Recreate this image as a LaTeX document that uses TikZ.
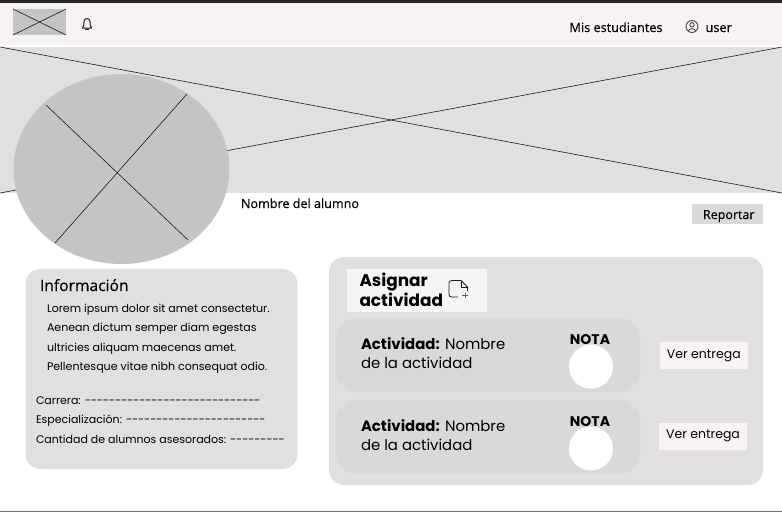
\documentclass[tikz,border=0pt]{standalone}
\usepackage{fontspec}
\setmainfont[Ligatures=TeXOff]{Poppins}
\newfontfamily\opensans[FakeBold=0.25]{Open Sans}
\usetikzlibrary{positioning,shapes.geometric}
\definecolor{navbg}{HTML}{F6F3F2}
\definecolor{herobg}{HTML}{E0E0E0}
\definecolor{imgbg}{HTML}{C4C4C4}
\definecolor{panelbg}{HTML}{E1DFDF}
\definecolor{rowbg}{HTML}{D9D9D9}
\definecolor{btnbg}{HTML}{FBF3F3}
\definecolor{asignbg}{HTML}{F6F5F5}
\definecolor{ink}{HTML}{1A1A1A}
\begin{document}
\begin{tikzpicture}[x=1pt,y=-1pt,
    box/.style={inner sep=0pt,outer sep=0pt,anchor=north west},
    cross/.style={draw=ink,line width=.6pt},
    txt/.style={inner sep=0pt,outer sep=0pt,anchor=base west,text=black},
    btn/.style={fill=btnbg,minimum width=88pt,minimum height=26.5pt,inner sep=0pt,font=\fontsize{12.5}{15}\selectfont},
    row/.style={box,fill=rowbg,rounded corners=22pt,minimum width=304pt,minimum height=74pt},
    dot/.style={circle,fill=white,minimum size=44pt,inner sep=0pt},
    nota/.style={inner sep=0pt,font=\fontsize{14}{16}\selectfont\bfseries}]
  \useasboundingbox (0,0) rectangle (782,512);
  \node[box,fill=white,minimum width=782pt,minimum height=512pt] (page) at (0,0) {};
  % top bar
  \node[box,fill=black!85,minimum width=782pt,minimum height=3pt] (topline) at (0,0) {};
  \node[box,fill=navbg,minimum width=782pt,minimum height=42pt] (nav) at (0,3) {};
  \node[box,fill=black!55,minimum width=782pt,minimum height=1.2pt] (bottomline) at (0,510.8) {};
  \node[box,fill=imgbg,minimum width=53pt,minimum height=26pt] (logo) at (13,9) {};
  \draw[cross] (logo.north west) -- (logo.south east);
  \draw[cross] (logo.south west) -- (logo.north east);
  % bell
  \node[inner sep=0pt,minimum size=1pt] (bell) at (87,24) {};
  \draw[ink,line width=1pt,line join=round] (82.5,28) .. controls (84.5,26) and (83.5,24) .. (84,21.5) .. controls (84.5,17.5) and (89.5,17.5) .. (90,21.5) .. controls (90.5,24) and (89.5,26) .. (91.5,28) -- cycle;
  \fill[ink] (85.2,28.5) rectangle (88.8,30);
  \node[txt,font=\opensans\fontsize{12.7}{15}\selectfont] (misest) at (569.5,32) {Mis estudiantes};
  \node[circle,draw=ink!80,line width=.9pt,minimum size=12pt,inner sep=0pt] (usericon) at (692,26.5) {};
  \draw[ink!80,line width=.9pt] (692,24.8) circle (2.2pt);
  \draw[ink!80,line width=.9pt] (688.3,30.8) .. controls (689.5,28) and (694.5,28) .. (695.7,30.8);
  \node[txt,font=\opensans\fontsize{12.8}{15}\selectfont] (user) at (705.5,32) {user};
  % hero
  \node[box,fill=herobg,minimum width=782pt,minimum height=146pt] (hero) at (0,47) {};
  \draw[cross] (hero.north west) -- (hero.south east);
  \draw[cross] (hero.south west) -- (hero.north east);
  \node[ellipse,fill=imgbg,minimum width=216pt,minimum height=190pt,inner sep=0pt] (avatar) at (121.5,169) {};
  \coordinate (av1) at (46,105);
  \coordinate (av2) at (188,240);
  \coordinate (av3) at (55,243);
  \coordinate (av4) at (187,94);
  \draw[cross] (av1) -- (av2);
  \draw[cross] (av3) -- (av4);
  \node[txt,font=\opensans\fontsize{12.6}{15}\selectfont] (nombre) at (241,208) {Nombre del alumno};
  \node[box,fill=rowbg,minimum width=71pt,minimum height=20pt] (reportar) at (692,204) {};
  \node[txt,font=\opensans\fontsize{12.5}{15}\selectfont] (reptxt) at (703,219) {Reportar};
  % informacion
  \node[box,fill=panelbg,rounded corners=15pt,minimum width=272pt,minimum height=200pt] (info) at (25.5,269) {};
  \node[txt,font=\opensans\fontsize{15.6}{18}\selectfont] (titinfo) at (40,291) {Información};
  \node[txt,font=\fontsize{11.05}{13}\selectfont] (l1) at (47,312) {Lorem ipsum dolor sit amet consectetur.};
  \node[txt,font=\fontsize{11.05}{13}\selectfont] (l2) at (47,331.5) {Aenean dictum semper diam egestas};
  \node[txt,font=\fontsize{11.05}{13}\selectfont] (l3) at (47,351) {ultricies aliquam maecenas amet.};
  \node[txt,font=\fontsize{11.05}{13}\selectfont] (l4) at (47,370.5) {Pellentesque vitae nibh consequat odio.};
  \node[txt,font=\fontsize{11}{13}\selectfont] (c1) at (36,404) {Carrera: -----------------------------};
  \node[txt,font=\fontsize{11}{13}\selectfont] (c2) at (36,423.5) {Especialización: -----------------------};
  \node[txt,font=\fontsize{11}{13}\selectfont] (c3) at (36,443) {Cantidad de alumnos asesorados: ---------};
  % actividades
  \node[box,fill=panelbg,rounded corners=15pt,minimum width=434pt,minimum height=228pt] (panel) at (329,257) {};
  \node[box,fill=asignbg,minimum width=140pt,minimum height=43pt] (asignar) at (347,268.5) {};
  \node[txt,font=\fontsize{16.9}{20}\selectfont\bfseries] (as1) at (359.5,286) {Asignar};
  \node[txt,font=\fontsize{16.9}{20}\selectfont\bfseries] (as2) at (359.5,306) {actividad};
  \node[inner sep=0pt,minimum size=1pt] (docicon) at (459,289) {};
  \draw[ink,line width=.8pt,line join=round] (458,297) -- (452,297) .. controls (450,297) and (449,296) .. (449,294.5) -- (449,283) .. controls (449,281.5) and (450,280.5) .. (452,280.5) -- (461,280.5) -- (467.5,287) -- (467.5,291);
  \draw[ink,line width=.8pt,line join=round] (461,280.5) -- (461,287) -- (467.5,287);
  \draw[ink!70,line width=.7pt] (465,292.5) -- (465,298) (462.2,295.2) -- (467.8,295.2);
  \node[row] (row1) at (336,318) {};
  \node[row] (row2) at (336,400) {};
  \node[txt,font=\fontsize{14.9}{18}\selectfont] (a1) at (361,349) {\textbf{Actividad:} Nombre};
  \node[txt,font=\fontsize{14.9}{18}\selectfont] (a1b) at (361,368) {de la actividad};
  \node[txt,font=\fontsize{14.9}{18}\selectfont] (a2) at (361,431) {\textbf{Actividad:} Nombre};
  \node[txt,font=\fontsize{14.9}{18}\selectfont] (a2b) at (361,450) {de la actividad};
  \node[dot] (n1) at (591,366.7) {};
  \node[dot] (n2) at (591,448.5) {};
  \node[nota] (t1) at (590,339.6) {NOTA};
  \node[nota] (t2) at (590,421.6) {NOTA};
  \node[btn] (b1) at (703.8,355.6) {Ver entrega};
  \node[btn] (b2) at (703,436.3) {Ver entrega};
\end{tikzpicture}
\end{document}
